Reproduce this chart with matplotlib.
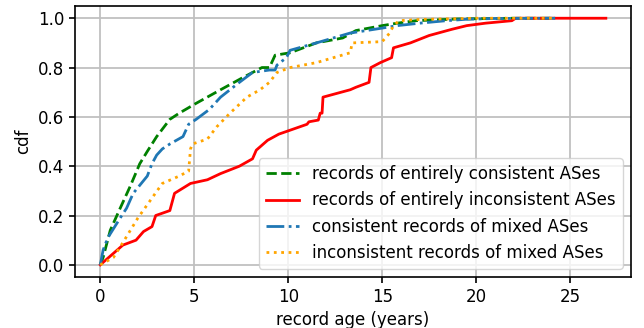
import matplotlib
matplotlib.use('Agg')
import matplotlib.pyplot as plt


# cdf knots: record age in years, cdf value
cons_age = [0.0, 0.15, 0.53, 1.06, 1.6, 2.1, 2.5, 3.0, 3.7, 4.2, 5.1, 6.4, 7.6, 8.6, 9.0,
            9.3, 10.1, 11.5, 12.9, 13.6, 15.0, 15.8, 16.8, 19.0, 22.0, 24.2]
cons_cdf = [0.0, 0.03, 0.14, 0.23, 0.32, 0.41, 0.46, 0.52, 0.59, 0.615, 0.655, 0.71, 0.76,
            0.80, 0.80, 0.85, 0.86, 0.90, 0.92, 0.95, 0.97, 0.98, 0.99, 0.997, 1.0, 1.0]

incons_age = [0.0, 0.9, 1.2, 1.9, 2.3, 2.75, 2.95, 3.7, 3.95, 4.8, 5.7, 6.4, 7.4, 8.1, 8.3,
              8.9, 9.5, 11.0, 11.1, 11.6, 11.7, 11.8, 11.85, 13.3, 13.6, 14.3, 14.4, 14.9,
              15.5, 15.6, 16.5, 17.5, 18.7, 19.5, 20.5, 21.9, 22.1, 26.9]
incons_cdf = [0.0, 0.06, 0.08, 0.10, 0.135, 0.155, 0.20, 0.22, 0.29, 0.33, 0.345, 0.37, 0.40,
              0.43, 0.465, 0.505, 0.53, 0.57, 0.58, 0.587, 0.615, 0.615, 0.68, 0.71, 0.72,
              0.74, 0.80, 0.82, 0.84, 0.88, 0.90, 0.93, 0.955, 0.97, 0.98, 0.99, 1.0, 1.0]

mixed_cons_age = [0.0, 0.15, 0.4, 1.06, 1.4, 1.75, 2.5, 2.75, 3.0, 3.3, 3.7, 4.4, 4.7, 5.1,
                  5.8, 6.4, 7.4, 8.1, 9.0, 9.3, 9.4, 9.9, 10.1, 11.5, 13.3, 15.0, 15.8, 17.0,
                  18.4, 19.5, 21.0, 24.2]
mixed_cons_cdf = [0.0, 0.06, 0.11, 0.19, 0.23, 0.29, 0.36, 0.41, 0.445, 0.47, 0.49, 0.52, 0.57,
                  0.59, 0.63, 0.68, 0.74, 0.78, 0.79, 0.79, 0.81, 0.84, 0.87, 0.90, 0.94, 0.96,
                  0.97, 0.98, 0.99, 0.996, 0.999, 1.0]

mixed_incons_age = [0.0, 0.7, 1.2, 2.0, 2.65, 3.3, 4.2, 4.7, 4.8, 4.9, 5.7, 6.2, 6.9, 7.8, 8.5,
                    9.0, 9.4, 10.1, 11.5, 13.3, 13.4, 15.0, 15.4, 15.6, 15.9, 17.0, 20.0, 24.2]
mixed_incons_cdf = [0.0, 0.03, 0.09, 0.19, 0.26, 0.33, 0.36, 0.38, 0.47, 0.49, 0.51, 0.56,
                    0.615, 0.68, 0.71, 0.74, 0.78, 0.80, 0.82, 0.86, 0.90, 0.905, 0.94, 0.97,
                    0.99, 0.995, 1.0, 1.0]

labels = ['records of entirely consistent ASes',
          'records of entirely inconsistent ASes',
          'consistent records of mixed ASes',
          'inconsistent records of mixed ASes']

plt.rcParams['font.size'] = 12

fig, ax = plt.subplots(figsize=(6.44, 3.28), dpi=100)
fig.subplots_adjust(left=0.1165, right=0.98, top=0.982, bottom=0.155)

ax.plot(cons_age, cons_cdf, color='green', linestyle='--', lw=2, label=labels[0])
ax.plot(incons_age, incons_cdf, color='red', linestyle='-', lw=2, label=labels[1])
ax.plot(mixed_cons_age, mixed_cons_cdf, color='tab:blue', linestyle='-.', lw=2, label=labels[2])
ax.plot(mixed_incons_age, mixed_incons_cdf, color='orange', linestyle=':', lw=2, label=labels[3])

ax.grid(True, color='#c0c0c0', lw=1.3)
ax.tick_params(length=4.2, width=1.2)
for sp in ax.spines.values():
    sp.set_linewidth(1.2)
ax.set_xlabel('record age (years)')
ax.set_ylabel('cdf')
ax.legend(loc='lower right', fontsize=12)

fig.savefig('out.png', dpi=100)
